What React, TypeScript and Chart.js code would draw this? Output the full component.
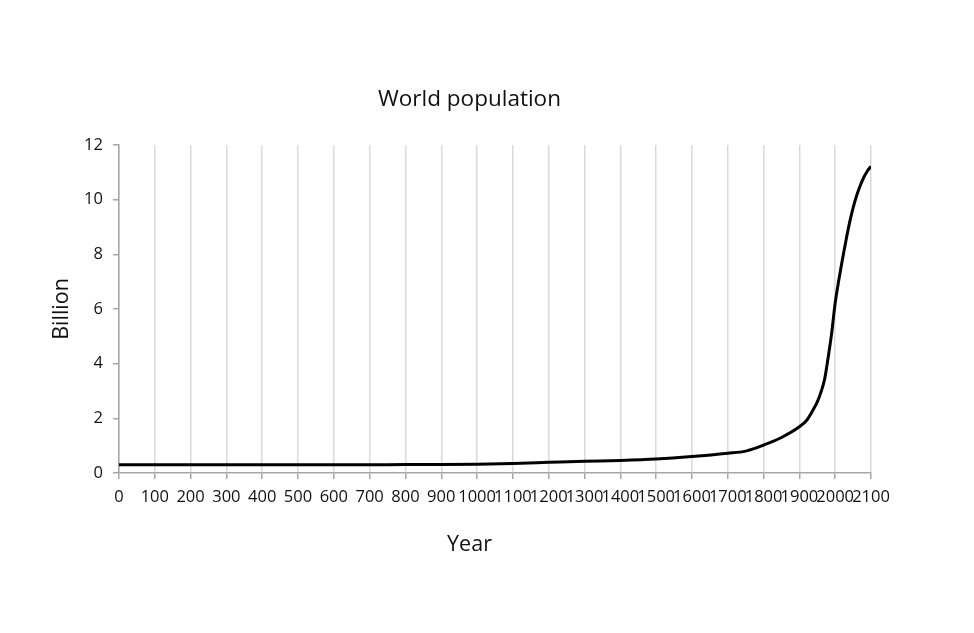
import React, { useEffect, useRef } from "react";
import { Chart, registerables } from "chart.js";

Chart.register(...registerables);

const years = [0, 100, 200, 300, 400, 500, 600, 700, 800, 900, 1000, 1100, 1200, 1300, 1400, 1500, 1600, 1700, 1750, 1780, 1800, 1850, 1900, 1920, 1940, 1950, 1960, 1970, 1980, 1990, 2000, 2010, 2020, 2030, 2040, 2050, 2060, 2070, 2080, 2090, 2100];
const population = [0.3, 0.3, 0.3, 0.3, 0.3, 0.3, 0.3, 0.3, 0.31, 0.31, 0.32, 0.35, 0.39, 0.43, 0.46, 0.51, 0.6, 0.72, 0.8, 0.92, 1.02, 1.3, 1.69, 1.92, 2.35, 2.6, 2.95, 3.4, 4.2, 5.1, 6.22, 7.05, 7.8, 8.5, 9.15, 9.7, 10.15, 10.52, 10.82, 11.05, 11.22];
const yTicks = [0, 2, 4, 6, 8, 10, 12];
const xTickStep = 100;
const chartTitle = "World population";
const xTitle = "Year";
const yTitle = "Billion";

const FONT = "'Open Sans', 'Noto Sans', sans-serif";
const TEXT = "#111111";

const xTitlePlugin = {
  id: "xTitleCentered",
  afterDraw(chart: any) {
    const ctx = chart.ctx;
    const tb = chart.titleBlock;
    const cx = tb ? (tb.left + tb.right) / 2 : chart.width / 2;
    const y = chart.scales.x.bottom + 30;
    ctx.save();
    ctx.fillStyle = TEXT;
    ctx.font = `21.5px ${FONT}`;
    ctx.textAlign = "center";
    ctx.textBaseline = "middle";
    ctx.fillText(xTitle, cx, y);
    ctx.restore();
  },
};

export default function App() {
  const ref = useRef<HTMLCanvasElement | null>(null);
  useEffect(() => {
    if (!ref.current) return;
    const chart = new Chart(ref.current, {
      type: "line",
      data: {
        datasets: [
          {
            data: years.map((x, i) => ({ x, y: population[i] })),
            borderColor: "#000000",
            borderWidth: 3,
            pointRadius: 0,
            fill: false,
            cubicInterpolationMode: "monotone",
          },
        ],
      },
      plugins: [xTitlePlugin],
      options: {
        animation: false,
        responsive: true,
        maintainAspectRatio: false,
        layout: { padding: { top: 80, left: 68, right: 103, bottom: 118.2 } },
        plugins: {
          legend: { display: false },
          tooltip: { enabled: false },
          title: {
            display: true,
            text: chartTitle,
            color: TEXT,
            font: { family: FONT, size: 22.5, weight: "normal" },
            padding: { top: 6.5, bottom: 31.5 },
          },
        },
        scales: {
          x: {
            type: "linear",
            min: 0,
            max: 2100,
            border: { display: true, color: "#a6a6a6", width: 1.5 },
            grid: {
              display: true,
              color: "#d9d9d9",
              lineWidth: 1.5,
              tickLength: 6,
              tickColor: "#a6a6a6",
            },
            ticks: {
              stepSize: xTickStep,
              autoSkip: false,
              maxRotation: 0,
              minRotation: 0,
              padding: 8,
              color: TEXT,
              font: { family: FONT, size: 16.5 },
              callback: (v: any) => String(v),
            },
            title: { display: false },
          },
          y: {
            type: "linear",
            min: 0,
            max: 12,
            afterBuildTicks: (scale: any) => {
              scale.ticks = yTicks.map((v) => ({ value: v }));
            },
            border: { display: true, color: "#a6a6a6", width: 1.5 },
            grid: {
              display: true,
              drawOnChartArea: false,
              tickLength: 6,
              tickColor: "#a6a6a6",
              lineWidth: 1.5,
            },
            ticks: {
              padding: 10,
              color: TEXT,
              font: { family: FONT, size: 16.5 },
            },
            title: {
              display: true,
              text: yTitle,
              color: TEXT,
              font: { family: FONT, size: 21.5 },
              padding: { top: -18.9, bottom: -0.8 },
            },
          },
        },
      },
    });
    return () => chart.destroy();
  }, []);
  return (
    <div style={{ position: "fixed", left: 0, top: 0, width: 974, height: 633, background: "#fff" }}>
      <canvas ref={ref} />
    </div>
  );
}
